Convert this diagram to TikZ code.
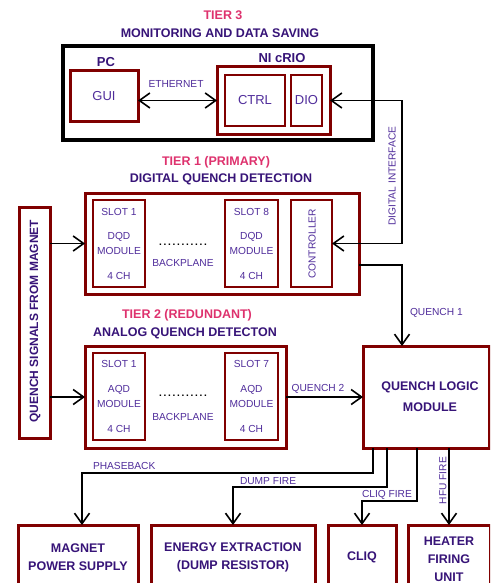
\documentclass[tikz,border=0pt]{standalone}
\usepackage{fontspec}
\setmainfont{Liberation Sans}
\usetikzlibrary{arrows.meta}
\definecolor{maroonc}{RGB}{128,0,0}
\definecolor{titlepurple}{RGB}{55,20,120}
\definecolor{smallpurple}{RGB}{80,45,155}
\definecolor{tierpink}{RGB}{222,50,110}
\newcommand{\dotrun}{.\kern1.7pt.\kern1.7pt.\kern1.7pt.\kern1.7pt.\kern1.7pt.\kern1.7pt.\kern1.7pt.\kern1.7pt.\kern1.7pt.\kern1.7pt.}
\begin{document}
\begin{tikzpicture}[x=1pt,y=-1pt,
  every node/.style={inner sep=0pt, outer sep=0pt},
  redbox/.style={draw=maroonc, line width=3pt, fill=white},
  slotbox/.style={draw=maroonc, line width=2pt},
  blkbox/.style={draw=black, line width=3.5pt},
  ttl/.style={font=\fontsize{12.5}{18}\selectfont\bfseries, text=titlepurple, align=center},
  tier/.style={font=\fontsize{12.5}{18}\selectfont\bfseries, text=tierpink},
  small/.style={font=\fontsize{10.2}{15}\selectfont, text=smallpurple, align=center},
  med/.style={font=\fontsize{13}{15}\selectfont, text=smallpurple},
  dotrow/.style={font=\fontsize{10}{12}\selectfont\bfseries, text=black, anchor=base},
  conn/.style={draw=black, line width=1.6pt},
  >={Straight Barb[length=10.5pt,width=15pt]}
]
\clip (0,0) rectangle (490,583);
\fill[white] (0,0) rectangle (490,583);

% ---------- Tier 3 ----------
\node[tier] (t3a) at (223,15) {TIER 3};
\node[ttl] (t3b) at (220,33) {MONITORING AND DATA SAVING};
\node[blkbox, minimum width=310pt, minimum height=94pt] (t3) at (218,93) {};
\node[ttl, font=\fontsize{13}{15}\selectfont\bfseries] (pcl) at (106,62) {PC};
\node[redbox, med, minimum width=68pt, minimum height=51pt] (gui) at (104,96.5) {GUI};
\node[ttl, font=\fontsize{13}{15}\selectfont\bfseries] (criol) at (282,58) {NI cRIO};
\node[redbox, minimum width=113pt, minimum height=67pt] (crio) at (273.5,100.5) {};
\node[slotbox, med, minimum width=60pt, minimum height=51pt] (ctrl) at (255,100.5) {CTRL};
\node[slotbox, med, minimum width=31pt, minimum height=51pt] (dio) at (306.5,100.5) {DIO};
\node[small] (eth) at (176,84) {ETHERNET};
\draw[conn,<->] (gui.east |- crio) -- (crio.west);

% ---------- Tier 1 ----------
\node[tier] (t1a) at (216,162) {TIER 1 (PRIMARY)};
\node[ttl] (t1b) at (221,179) {DIGITAL QUENCH DETECTION};
\node[redbox, minimum width=274pt, minimum height=101pt] (t1) at (222,243.5) {};
\node[slotbox, small, minimum width=52pt, minimum height=87pt] (d1) at (119,243.5)
  {SLOT 1\\[9pt]DQD\\MODULE\\[10pt]4 CH};
\node[slotbox, small, minimum width=53pt, minimum height=87pt] (d8) at (251.5,243.5)
  {SLOT 8\\[9pt]DQD\\MODULE\\[10pt]4 CH};
\node[slotbox, minimum width=41pt, minimum height=87pt] (ctl) at (311.5,243.5) {};
\node[small, rotate=90] (ctltxt) at (312,244) {CONTROLLER};
\node[dotrow] (dots1) at (183,245) {\dotrun};
\node[small] (bp1) at (183,263) {BACKPLANE};

% digital interface
\coordinate (dic) at (402,100.5);
\draw[conn,<->] (crio.east) -- (dic) |- (ctl.east);
\node[small, rotate=90] (dil) at (392,176) {DIGITAL INTERFACE};

% quench signals
\node[redbox, minimum width=31pt, minimum height=231pt] (qsm) at (34.5,322.5) {};
\node[ttl, font=\fontsize{12}{14}\selectfont\bfseries, rotate=90] (qsmt) at (35,321) {QUENCH SIGNALS FROM MAGNET};

% ---------- Tier 2 ----------
\node[tier] (t2a) at (187,315) {TIER 2 (REDUNDANT)};
\node[ttl] (t2b) at (185,333) {ANALOG QUENCH DETECTON};
\node[redbox, minimum width=201pt, minimum height=102pt] (t2) at (185.5,397) {};
\node[slotbox, small, minimum width=52pt, minimum height=87pt] (a1) at (119,396.5)
  {SLOT 1\\[10pt]AQD\\MODULE\\[10pt]4 CH};
\node[slotbox, small, minimum width=53pt, minimum height=87pt] (a7) at (251.5,396.5)
  {SLOT 7\\[10pt]AQD\\MODULE\\[10pt]4 CH};
\node[dotrow] (dots2) at (183,396) {\dotrun};
\node[small] (bp2) at (183,417) {BACKPLANE};

\draw[conn,->] (qsm.east |- t1.west) -- (t1.west);
\draw[conn,->] (qsm.east |- t2.west) -- (t2.west);

% ---------- Quench logic ----------
\node[redbox, ttl, font=\fontsize{12.5}{21}\selectfont\bfseries, minimum width=126pt, minimum height=102pt] (qlm) at (426,397)
  {\hspace{8pt}QUENCH LOGIC\\\hspace{8pt}MODULE};
\draw[conn,->] ([yshift=-21.5pt]t1.east) -| ([xshift=-24pt]qlm.north);
\node[small, anchor=west] (q1l) at (410,313) {QUENCH 1};
\draw[conn,->] (t2.east) -- (qlm.west);
\node[small] (q2l) at (318,389) {QUENCH 2};

% ---------- Bottom ----------
\node[redbox, ttl, minimum width=120pt, minimum height=64pt] (mps) at (78,557) {MAGNET\\POWER SUPPLY};
\node[redbox, ttl, minimum width=164pt, minimum height=64pt] (ee) at (233,557) {ENERGY EXTRACTION\\(DUMP RESISTOR)};
\node[redbox, ttl, minimum width=68pt, minimum height=64pt] (cliq) at (362,557) {CLIQ};
\node[redbox, ttl, minimum width=82pt, minimum height=68pt] (hfu) at (449,559) {HEATER\\FIRING\\UNIT};

\draw[conn,->] ([xshift=-53pt]qlm.south) -- ++(0,25) -| ([xshift=4pt]mps.north);
\draw[conn,->] ([xshift=-39pt]qlm.south) -- ++(0,39) -| (ee.north);
\draw[conn,->] ([xshift=-9pt]qlm.south) -- ++(0,53) -| (cliq.north);
\draw[conn,->] (qlm.south -| hfu.north) -- (hfu.north);

\node[small, anchor=west] (pbl) at (93,466) {PHASEBACK};
\node[small, anchor=west] (dfl) at (240,481) {DUMP FIRE};
\node[small, anchor=west] (cfl) at (362,495) {CLIQ FIRE};
\node[small, rotate=90] (hfl) at (443,480.5) {HFU FIRE};
\end{tikzpicture}
\end{document}
